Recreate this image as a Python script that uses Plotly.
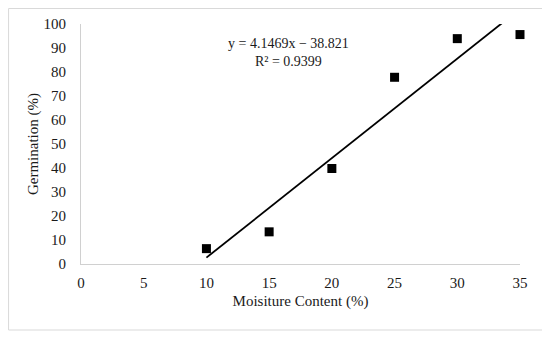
import numpy as np
import plotly.graph_objects as go

moisture = [10, 15, 20, 25, 30, 35]
germination = [6.4, 13.4, 39.8, 77.8, 93.9, 95.6]
x_ticks = [0, 5, 10, 15, 20, 25, 30, 35]
y_ticks = [0, 10, 20, 30, 40, 50, 60, 70, 80, 90, 100]
eq_text = "y = 4.1469x − 38.821<br>R² = 0.9399"

slope, intercept = np.polyfit(moisture, germination, 1)
trend_x = [moisture[0], moisture[-1]]
trend_y = [slope * v + intercept for v in trend_x]

FONT = "Liberation Serif"

fig = go.Figure()
fig.add_trace(go.Scatter(x=trend_x, y=trend_y, mode="lines",
                         line=dict(color="black", width=1.8), showlegend=False, hoverinfo="skip"))
fig.add_trace(go.Scatter(x=moisture, y=germination, mode="markers",
                         marker=dict(symbol="square", size=9, color="black"),
                         showlegend=False, cliponaxis=False))

fig.update_layout(
    width=542, height=330,
    margin=dict(l=73, r=30, t=16, b=74),
    paper_bgcolor="white", plot_bgcolor="white",
    font=dict(family=FONT, size=15, color="#1a1a1a"),
    xaxis=dict(range=[0, 35], tickvals=x_ticks, showgrid=False, zeroline=False,
               showline=True, linecolor="#d0d0d0", linewidth=1, ticks="",
               ticklabelstandoff=5, automargin=False,
               title=dict(text="Moisiture Content (%)", standoff=5, font=dict(size=15))),
    yaxis=dict(range=[0, 100], tickvals=y_ticks, showgrid=False, zeroline=False,
               showline=True, linecolor="#d0d0d0", linewidth=1, ticks="",
               ticklabelstandoff=11, automargin=False,
               title=dict(text="Germination (%)", standoff=1, font=dict(size=15))),
    shapes=[dict(type="rect", xref="paper", yref="paper",
                 x0=-0.165, x1=1.052, y0=-0.275, y1=1.0646,
                 line=dict(color="#d9d9d9", width=1), fillcolor="rgba(0,0,0,0)", layer="below")],
    annotations=[dict(text=eq_text, xref="x", yref="y", x=16.55, y=88.2,
                      showarrow=False, align="center", font=dict(size=14, family=FONT, color="#1a1a1a"))],
)

fig.write_html("out.html")
